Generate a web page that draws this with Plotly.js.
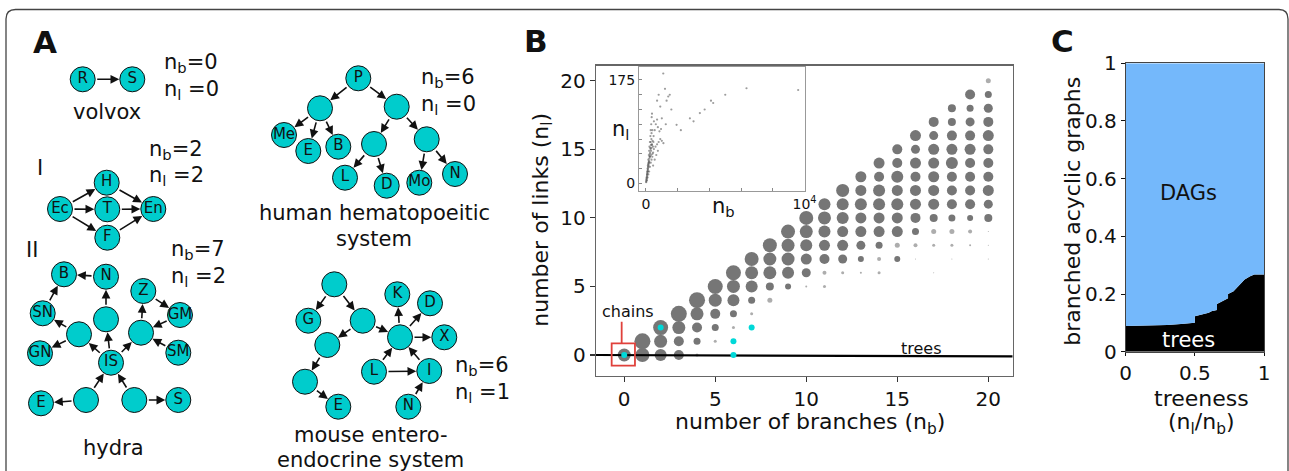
<!DOCTYPE html>
<html>
<head>
<meta charset="utf-8">
<script src="https://cdn.plot.ly/plotly-3.0.1.min.js"></script>
<style>html,body{margin:0;padding:0;background:#fff;}#chart{width:1289px;height:471px;}</style>
</head>
<body>
<div id="chart"></div>
<script>
// ---------------- DATA ----------------
// Panel A: example graphs (node labels + directed edges [from, to])
const volvoxLabels = ['R', 'S'];
const volvoxEdges = [[0, 1]];
const hydraILabels = ['H', 'Ec', 'T', 'En', 'F'];
const hydraIEdges = [[1, 0], [1, 2], [1, 4], [0, 3], [2, 3], [4, 3]];
const hydraIILabels = ['B', 'N', 'Z', 'GM', 'SN', '', '', '', 'GN', 'SM', 'IS', 'E', '', '', 'S'];
const hydraIIEdges = [[1, 0], [4, 0], [6, 4], [6, 8], [10, 6], [10, 5], [5, 1], [10, 7], [7, 2], [2, 3], [3, 7], [9, 7], [12, 10], [13, 10], [12, 11], [13, 14]];
const hemaLabels = ['P', '', '', 'Me', 'E', 'B', '', '', 'L', 'D', 'Mo', 'N'];
const hemaEdges = [[0, 1], [0, 2], [1, 3], [1, 4], [1, 5], [2, 6], [2, 7], [6, 8], [6, 9], [7, 10], [7, 11]];
const mouseLabels = ['', 'G', '', 'K', 'D', '', '', 'X', 'L', 'I', '', 'E', 'N'];
const mouseEdges = [[0, 1], [0, 2], [2, 5], [2, 6], [6, 3], [6, 4], [6, 7], [5, 10], [10, 11], [8, 6], [9, 6], [8, 9], [12, 9]];
const exampleNb = [0, 2, 6, 6, 7];
const exampleNl = [0, 2, 0, 1, 2];

// Panel B: blob size (density) for each number of branches nb, listed for nl = 0..nb
const blobSizes = [
  [13],
  [14, 16],
  [12, 13, 15],
  [10, 10, 13, 16],
  [3, 7, 10, 13, 16],
  [0, 3, 7, 10, 13, 15],
  [0, 2, 3, 7, 12, 13, 15],
  [0, 0, 0, 3, 7, 12, 13, 14],
  [0, 0, 0, 0, 5, 8, 13, 13, 14],
  [0, 0, 0, 0, 0, 6, 12, 13, 13, 14],
  [0, 0, 0, 0, 0, 2, 9, 11, 12, 13, 14],
  [0, 0, 0, 0, 0, 3, 4, 10, 11, 12, 13, 12],
  [0, 0, 0, 0, 0, 0, 3, 9, 11, 11, 12, 12, 13],
  [0, 0, 0, 0, 0, 0, 2, 6, 9, 11, 11, 12, 11, 11],
  [0, 0, 0, 0, 0, 0, 3, 4, 7, 11, 11, 12, 12, 10, 11],
  [0, 0, 0, 0, 0, 0, 0, 6, 5, 11, 11, 12, 11, 12, 10, 10],
  [0, 0, 0, 0, 0, 0, 0, 1, 4, 7, 10, 11, 11, 10, 11, 9, 11],
  [0, 0, 0, 0, 0, 0, 1, 0, 3, 5, 8, 11, 11, 11, 11, 11, 9, 10],
  [0, 0, 0, 0, 0, 0, 0, 1, 3, 5, 7, 10, 10, 10, 12, 11, 10, 8, 8],
  [0, 0, 0, 0, 0, 0, 0, 0, 2, 4, 6, 10, 10, 10, 10, 11, 10, 9, 7, 10],
  [0, 0, 0, 0, 0, 0, 0, 1, 1, 1, 8, 9, 11, 10, 10, 10, 11, 10, 9, 7, 5]
];

// Panel B inset: full range of (nb, nl)
const insetNb = [20, 40, 60, 80, 100, 120, 150, 180, 200, 220, 250, 280, 300, 330, 360, 380,
  60, 100, 150, 200, 250, 300, 350, 400, 450, 500, 600, 700, 800, 900, 1000, 1100,
  120, 200, 260, 320, 380, 420, 480, 550, 620, 700, 750, 850, 950, 400, 500, 300, 350, 450, 550, 650, 750,
  1090, 1405, 1300, 1500, 1200, 1930, 2770, 3400, 3700, 4240, 4100, 6340, 9600, 2200, 1600, 900, 800, 700, 1000, 1250, 5000, 3000,
  30, 50, 70, 90, 110, 130, 160, 170, 240, 270, 310, 340, 230, 190, 140,
  10, 25, 45, 65, 85, 105, 125, 145, 165, 185, 210, 235, 265, 290, 320, 345, 375, 410, 440, 470];
const insetNl = [3, 8, 12, 18, 25, 30, 40, 48, 55, 62, 70, 80, 90, 100, 112, 118,
  5, 10, 15, 20, 28, 35, 40, 45, 52, 58, 62, 66, 70, 75, 72, 68,
  20, 35, 45, 55, 65, 72, 80, 90, 100, 108, 95, 88, 92, 90, 105, 70, 85, 30, 40, 48, 55,
  186, 147, 140, 150, 160, 99, 110, 119, 125, 136, 140, 161, 158, 90, 125, 130, 150, 140, 110, 100, 150, 105,
  6, 10, 15, 20, 22, 28, 35, 30, 50, 60, 65, 75, 45, 38, 32,
  2, 5, 9, 14, 16, 20, 24, 27, 33, 36, 42, 46, 52, 58, 48, 60, 66, 50, 62, 70];

// Panel C: fraction of branched acyclic graphs that are trees vs treeness
const treeness = [0, 0.1, 0.2, 0.3, 0.4, 0.45, 0.5, 0.5, 0.55, 0.6, 0.62, 0.66, 0.66, 0.7, 0.74, 0.74, 0.78, 0.8, 0.83, 0.86, 0.9, 0.93, 1.0];
const treesFrac = [0.089, 0.09, 0.091, 0.093, 0.096, 0.098, 0.1, 0.123, 0.128, 0.135, 0.14, 0.145, 0.165, 0.175, 0.185, 0.2, 0.21, 0.22, 0.235, 0.25, 0.262, 0.268, 0.268];

// ---------------- LAYOUT HELPERS (pixel positions) ----------------
const W = 1289, H = 471;
const px = x => x / W;
const py = y => 1 - y / H;

const volvoxPos = [[82.7, 79.3], [132.3, 79.3]];
const hydraIPos = [[106.7, 182.7], [60, 209], [107.3, 209.3], [153.3, 209], [107.3, 237.7]];
const hydraIIPos = [[64, 274.3], [106, 276.7], [143.3, 291], [180, 315], [42.7, 313.3], [106, 319.3], [79, 334.3], [141, 332.7],
  [40, 353.3], [178.3, 352.7], [111, 362.7], [41, 403.3], [86, 400], [134.3, 400], [178.3, 400]];
const hemaPos = [[358.3, 78.3], [320, 108.3], [396.7, 106.7], [284, 135], [308.3, 151], [338.3, 146.7], [374, 144], [426.7, 139.3],
  [345, 177.7], [386.7, 185.7], [419.3, 182.7], [455, 174]];
const mousePos = [[334.3, 284.3], [308.3, 320.7], [362.7, 320.7], [397.3, 294.3], [430, 303.3], [327.3, 345], [400, 337.3],
  [444.3, 337.3], [374, 371.7], [429.3, 371], [305, 381.7], [338.3, 406.7], [408.3, 406.7]];

const FONT = 'DejaVu Sans, sans-serif';
const CYAN = '#00cccc';
const traces = [];
const ann = [];

function txt(t, x, y, o) {
  ann.push(Object.assign({text: t, x: px(x), y: py(y), xref: 'paper', yref: 'paper', showarrow: false,
    xanchor: 'center', yanchor: 'middle',
    font: {family: FONT, size: 21, color: '#111'}}, o || {}));
}

function graph(labels, pos, edges) {
  traces.push({type: 'scatter', mode: 'markers+text', xaxis: 'x4', yaxis: 'y4', cliponaxis: false,
    x: pos.map(p => p[0]), y: pos.map(p => p[1]), text: labels, textposition: 'middle center',
    textfont: {family: FONT, size: 15, color: '#111'}, hoverinfo: 'skip',
    marker: {size: 25, color: CYAN, opacity: 1, line: {color: '#111', width: 1}}});
  edges.forEach(e => {
    const s = pos[e[0]], t = pos[e[1]];
    ann.push({x: t[0], y: t[1], ax: s[0], ay: s[1], xref: 'x4', yref: 'y4', axref: 'x4', ayref: 'y4',
      showarrow: true, text: '', arrowhead: 2, arrowsize: 1.1, arrowwidth: 1.6, arrowcolor: '#111',
      standoff: 13, startstandoff: 13});
  });
}
graph(volvoxLabels, volvoxPos, volvoxEdges);
graph(hydraILabels, hydraIPos, hydraIEdges);
graph(hydraIILabels, hydraIIPos, hydraIIEdges);
graph(hemaLabels, hemaPos, hemaEdges);
graph(mouseLabels, mousePos, mouseEdges);

// Panel A text
txt('<b>A</b>', 45, 42.5, {font: {family: FONT, size: 31, color: '#111'}});
txt('<b>B</b>', 535.5, 41, {font: {family: FONT, size: 31, color: '#111'}});
txt('<b>C</b>', 1062.5, 41, {font: {family: FONT, size: 31, color: '#111'}});
const nbnl = [[0, 0, 161.7, 63, 90], [2, 2, 146.7, 150, 175.7], [7, 2, 169.3, 250, 276.7], [6, 0, 419.3, 78.3, 105], [6, 1, 453.3, 366, 393.3]];
nbnl.forEach(r => {
  txt('n<sub>b</sub>=' + r[0], r[2], r[3], {xanchor: 'left'});
  txt('n<sub>l</sub> =' + r[1], r[2], r[4], {xanchor: 'left'});
});
txt('volvox', 106.7, 111.7);
txt('I', 40, 168);
txt('II', 32.3, 250);
txt('hydra', 113.3, 448.3);
txt('human hematopoeitic', 374, 213.3);
txt('system', 374, 239.3);
txt('mouse entero-', 370.7, 435);
txt('endocrine system', 370.7, 460);

// ---------------- Panel B ----------------
const bx = [], by = [], bs = [], bc = [];
blobSizes.forEach((col, nb) => col.forEach((s, nl) => {
  if (s > 0) {
    bx.push(nb); by.push(nl); bs.push(s);
    bc.push(s < 6 ? 'rgba(118,118,118,0.6)' : 'rgb(118,118,118)');
  }
}));
traces.push({type: 'scatter', mode: 'markers', x: bx, y: by, xaxis: 'x', yaxis: 'y', hoverinfo: 'skip',
  marker: {size: bs, color: bc, opacity: 1, line: {width: 0}}});
const xRangeB = [-1.55, 21.34];
traces.push({type: 'scatter', mode: 'lines', x: xRangeB, y: [0, -0.1], xaxis: 'x', yaxis: 'y', cliponaxis: true,
  line: {color: '#000', width: 2.2}, hoverinfo: 'skip'});
traces.push({type: 'scatter', mode: 'markers', x: exampleNb, y: exampleNl, xaxis: 'x', yaxis: 'y', hoverinfo: 'skip',
  marker: {size: 6, color: '#00d8d8', opacity: 1}});
// inset
traces.push({type: 'scatter', mode: 'markers', x: insetNb, y: insetNl, xaxis: 'x2', yaxis: 'y2', hoverinfo: 'skip',
  marker: {size: 2.2, color: 'rgba(90,90,90,0.6)'}});

txt('chains', 628.3, 311.7, {font: {family: FONT, size: 16, color: '#111'}});
txt('trees', 921.7, 348.3, {font: {family: FONT, size: 16, color: '#111'}});
txt('number of links (n<sub>l</sub>)', 541.7, 220, {textangle: -90, font: {family: FONT, size: 22, color: '#111'}});
txt('number of branches (n<sub>b</sub>)', 810, 423, {font: {family: FONT, size: 22, color: '#111'}});
txt('n<sub>l</sub>', 620, 130, {font: {family: FONT, size: 21, color: '#111'}});
txt('n<sub>b</sub>', 723, 207, {font: {family: FONT, size: 21, color: '#111'}});

// ---------------- Panel C ----------------
const dagsFrac = treesFrac.map(t => 1 - t);
traces.push({type: 'scatter', mode: 'lines', x: treeness, y: treesFrac, xaxis: 'x3', yaxis: 'y3', stackgroup: 'c',
  fillcolor: '#000', line: {color: '#000', width: 0}, hoverinfo: 'skip'});
traces.push({type: 'scatter', mode: 'lines', x: treeness, y: dagsFrac, xaxis: 'x3', yaxis: 'y3', stackgroup: 'c',
  fillcolor: '#74b8fb', line: {color: '#74b8fb', width: 0}, hoverinfo: 'skip'});
txt('DAGs', 1188.3, 193.3, {font: {family: FONT, size: 21, color: '#111'}});
txt('trees', 1188.3, 340, {font: {family: FONT, size: 21, color: '#fff'}});
txt('branched acyclic graphs', 1071.7, 211, {textangle: -90, font: {family: FONT, size: 22, color: '#111'}});
txt('treeness', 1201.7, 398, {font: {family: FONT, size: 22, color: '#111'}});
txt('(n<sub>l</sub>/n<sub>b</sub>)', 1201.7, 423, {font: {family: FONT, size: 22, color: '#111'}});

const tickFont = {family: FONT, size: 20, color: '#111'};
const layout = {
  width: W, height: H, margin: {l: 0, r: 0, t: 0, b: 0, pad: 0},
  paper_bgcolor: '#fff', plot_bgcolor: 'rgba(0,0,0,0)', showlegend: false,
  font: {family: FONT, color: '#111'},
  xaxis: {domain: [px(596), px(1012.7)], range: xRangeB, anchor: 'y', tickvals: [0, 5, 10, 15, 20],
    ticks: 'outside', ticklen: 5, tickwidth: 1.2, tickcolor: '#333', showline: true, mirror: true,
    linecolor: '#666', linewidth: 1.3, showgrid: false, zeroline: false, tickfont: tickFont},
  yaxis: {domain: [py(375.7), py(65.7)], range: [-1.51, 21.1], anchor: 'x', tickvals: [0, 5, 10, 15, 20],
    ticks: 'outside', ticklen: 5, tickwidth: 1.2, tickcolor: '#333', showline: true, mirror: true,
    linecolor: '#666', linewidth: 1.3, showgrid: false, zeroline: false, tickfont: tickFont},
  xaxis2: {domain: [px(639), px(805)], range: [-440, 10030], anchor: 'y2',
    tickvals: [0, 2000, 4000, 6000, 8000, 10000], ticktext: ['0', '', '', '', '', '10<sup>4</sup>'],
    ticks: 'inside', ticklen: 3, tickcolor: '#888', showline: true, mirror: true, linecolor: '#999', linewidth: 1,
    showgrid: false, zeroline: false, tickfont: {family: FONT, size: 14, color: '#111'}},
  yaxis2: {domain: [py(190.7), py(66.7)], range: [-12.5, 197.5], anchor: 'x2',
    tickvals: [0, 25, 50, 75, 100, 125, 150, 175], ticktext: ['0', '', '', '', '', '', '', '175'],
    ticks: 'inside', ticklen: 3, tickcolor: '#888', showline: true, mirror: true, linecolor: '#999', linewidth: 1,
    showgrid: false, zeroline: false, tickfont: {family: FONT, size: 14, color: '#111'}},
  xaxis3: {domain: [px(1125.7), px(1264)], range: [0, 1], anchor: 'y3', tickvals: [0, 0.5, 1], ticktext: ['0', '0.5', '1'],
    ticks: 'outside', ticklen: 3, tickcolor: '#111', showline: true, mirror: true, linecolor: '#444', linewidth: 1,
    showgrid: false, zeroline: false, tickfont: tickFont},
  yaxis3: {domain: [py(351.7), py(63.3)], range: [0, 1], anchor: 'x3', tickvals: [0, 0.2, 0.4, 0.6, 0.8, 1],
    ticktext: ['0', '0.2', '0.4', '0.6', '0.8', '1'],
    ticks: 'outside', ticklen: 4, tickcolor: '#111', showline: true, mirror: true, linecolor: '#444', linewidth: 1,
    showgrid: false, zeroline: false, tickfont: tickFont},
  xaxis4: {domain: [0, px(520)], range: [0, 520], anchor: 'y4', visible: false, fixedrange: true},
  yaxis4: {domain: [0, 1], range: [471, 0], anchor: 'x4', visible: false, fixedrange: true},
  annotations: ann,
  shapes: [
    {type: 'path', xref: 'paper', yref: 'paper', layer: 'above',
      path: `M ${px(6)},${py(471)} L ${px(6)},${py(19)} Q ${px(6)},${py(9.5)} ${px(15.5)},${py(9.5)} L ${px(1279)},${py(9.5)} Q ${px(1288)},${py(9.5)} ${px(1288)},${py(19)} L ${px(1288)},${py(471)}`,
      line: {color: '#444', width: 1.3}},
    {type: 'rect', xref: 'x', yref: 'y', x0: -0.69, x1: 0.59, y0: -0.78, y1: 0.85, line: {color: '#e0413b', width: 1.8}},
    {type: 'line', xref: 'x', yref: 'y', x0: -0.14, x1: -0.14, y0: 0.85, y1: 2.43, line: {color: '#e0413b', width: 1.8}}
  ]
};

Plotly.newPlot('chart', traces, layout, {staticPlot: true, displayModeBar: false});
</script>
</body>
</html>
